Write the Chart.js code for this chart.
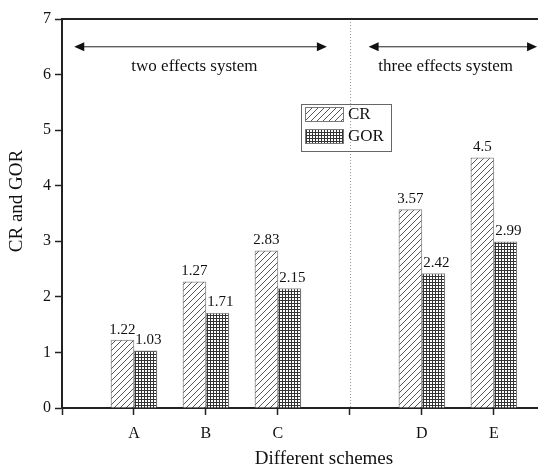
<!DOCTYPE html>
<html><head><meta charset="utf-8">
<script src="https://cdn.jsdelivr.net/npm/chart.js@4"></script>
<style>html,body{margin:0;padding:0;background:#fff;overflow:hidden}
#wrap{width:538px;height:469px;overflow:hidden;position:relative}
canvas{position:absolute;left:0;top:0}</style></head>
<body><div id="wrap"><canvas id="c" width="586" height="469"></canvas></div>
<script>
// ---- data ----
const tickNames = ['A','B','C','','D','E'];   // labels at x = 0..5
const schemePos = [0,1,2,4,5];                // positions of schemes A..E
const crValues  = [1.22, 2.27, 2.83, 3.57, 4.5];
const gorValues = [1.03, 1.71, 2.15, 2.42, 2.99];
const crLabels  = ['1.22','1.27','2.83','3.57','4.5'];
const gorLabels = ['1.03','1.71','2.15','2.42','2.99'];
const yTicks    = [0,1,2,3,4,5,6,7];
const groupNames = ['two effects system','three effects system'];
const seriesNames = ['CR','GOR'];
const yTitle = 'CR and GOR';
const xTitle = 'Different schemes';

const FONT = "'Liberation Serif','Times New Roman',serif";

function hatchPattern(){
  const t=document.createElement('canvas');t.width=6;t.height=6;
  const g=t.getContext('2d');g.fillStyle='#fff';g.fillRect(0,0,6,6);
  g.strokeStyle='#444';g.lineWidth=0.9;g.beginPath();
  g.moveTo(0,6);g.lineTo(6,0);g.moveTo(-1,1);g.lineTo(1,-1);g.moveTo(5,7);g.lineTo(7,5);g.stroke();
  return document.createElement('canvas').getContext('2d').createPattern(t,'repeat');
}
function gridPattern(){
  const t=document.createElement('canvas');t.width=3;t.height=3;
  const g=t.getContext('2d');g.fillStyle='#fff';g.fillRect(0,0,3,3);
  g.fillStyle='#333';g.fillRect(0,0,3,1);g.fillRect(0,0,1,3);
  return document.createElement('canvas').getContext('2d').createPattern(t,'repeat');
}
const hatch=hatchPattern(), grid=gridPattern();

function arrow(ctx,x1,x2,y){
  ctx.save();ctx.strokeStyle='#222';ctx.fillStyle='#111';ctx.lineWidth=1;
  ctx.beginPath();ctx.moveTo(x1+6,y);ctx.lineTo(x2-6,y);ctx.stroke();
  ctx.beginPath();ctx.moveTo(x1,y);ctx.lineTo(x1+10,y-4.5);ctx.lineTo(x1+10,y+4.5);ctx.closePath();ctx.fill();
  ctx.beginPath();ctx.moveTo(x2,y);ctx.lineTo(x2-10,y-4.5);ctx.lineTo(x2-10,y+4.5);ctx.closePath();ctx.fill();
  ctx.restore();
}

const deco={
  id:'deco',
  beforeDatasetsDraw(chart){
    const {ctx,chartArea:a,scales:{x,y}}=chart;
    ctx.save();
    ctx.strokeStyle='#999';ctx.lineWidth=1;ctx.setLineDash([1,2]);
    const xd=Math.round(x.getPixelForValue(3))+0.5;
    ctx.beginPath();ctx.moveTo(xd,a.top);ctx.lineTo(xd,a.bottom);ctx.stroke();
    ctx.restore();
  },
  afterDatasetsDraw(chart){
    const {ctx,chartArea:a,scales:{x,y}}=chart;
    ctx.save();
    // top frame line
    ctx.strokeStyle='#222';ctx.lineWidth=2;
    ctx.beginPath();ctx.moveTo(a.left,a.top);ctx.lineTo(a.right,a.top);ctx.stroke();
    // value labels
    ctx.fillStyle='#111';ctx.font='15px '+FONT;ctx.textAlign='center';ctx.textBaseline='bottom';
    const m0=chart.getDatasetMeta(0), m1=chart.getDatasetMeta(1);
    m0.data.forEach((el,i)=>ctx.fillText(crLabels[i],el.x,el.y-3));
    m1.data.forEach((el,i)=>ctx.fillText(gorLabels[i],el.x+3,el.y-3));
    // group arrows
    const ya=y.getPixelForValue(6.5);
    arrow(ctx,x.getPixelForValue(-0.83),x.getPixelForValue(2.68),ya);
    arrow(ctx,x.getPixelForValue(3.26),x.getPixelForValue(5.6),ya);
    ctx.textBaseline='middle';ctx.font='17px '+FONT;
    const yt=y.getPixelForValue(6.14);
    ctx.fillText(groupNames[0],x.getPixelForValue(0.84),yt);
    ctx.fillText(groupNames[1],x.getPixelForValue(4.33),yt);
    // legend
    const lx=a.left+239, ly=a.top+85;
    ctx.strokeStyle='#666';ctx.lineWidth=1;
    ctx.strokeRect(lx+0.5,ly+0.5,90,47);
    ctx.fillStyle=hatch;ctx.fillRect(lx+4,ly+3,38,14);ctx.strokeStyle='#777';ctx.strokeRect(lx+4.5,ly+3.5,38,14);
    ctx.fillStyle=grid;ctx.fillRect(lx+4,ly+25,38,14);ctx.strokeRect(lx+4.5,ly+25.5,38,14);
    ctx.fillStyle='#111';ctx.font='17px '+FONT;ctx.textAlign='left';ctx.textBaseline='middle';
    ctx.fillText(seriesNames[0],lx+47,ly+11);
    ctx.fillText(seriesNames[1],lx+47,ly+33);
    // y axis title
    ctx.translate(17,201);ctx.rotate(-Math.PI/2);
    ctx.textAlign='center';ctx.font='19px '+FONT;ctx.fillText(yTitle,0,0);
    ctx.restore();
  }
};

new Chart(document.getElementById('c'),{
  type:'bar',
  data:{datasets:[
    {label:seriesNames[0],data:schemePos.map((p,i)=>({x:p,y:crValues[i]})),backgroundColor:hatch,borderColor:'#888',borderWidth:1,barThickness:23},
    {label:seriesNames[1],data:schemePos.map((p,i)=>({x:p,y:gorValues[i]})),backgroundColor:grid,borderColor:'#888',borderWidth:1,barThickness:23}
  ]},
  options:{
    responsive:false,animation:false,
    layout:{padding:{top:19,right:0,left:0,bottom:0}},
    plugins:{legend:{display:false},tooltip:{enabled:false}},
    scales:{
      x:{type:'linear',min:-1,max:6.28,offset:false,
        afterBuildTicks(s){s.ticks=[-1,0,1,2,3,4,5].map(v=>({value:v}));},
        afterFit(s){s.height=61;},
        ticks:{autoSkip:false,maxRotation:0,padding:9,color:'#111',font:{family:FONT,size:16},
          callback:(v)=> (v>=0 && v<tickNames.length)? tickNames[v] : ''},
        grid:{offset:false,drawOnChartArea:false,tickLength:7,tickColor:'#222',tickWidth:1.5},
        border:{color:'#222',width:2},
        title:{display:true,text:xTitle,color:'#111',font:{family:FONT,size:19,lineHeight:1},padding:{top:0,bottom:0}}
      },
      y:{min:0,max:7,
        afterBuildTicks(s){s.ticks=yTicks.map(v=>({value:v}));},
        afterFit(s){s.width=62;},
        ticks:{padding:4,color:'#111',font:{family:FONT,size:16}},
        grid:{drawOnChartArea:false,tickLength:7,tickColor:'#222',tickWidth:1.5},
        border:{color:'#222',width:2},
        title:{display:false}
      }
    }
  },
  plugins:[deco]
});
</script></body></html>
